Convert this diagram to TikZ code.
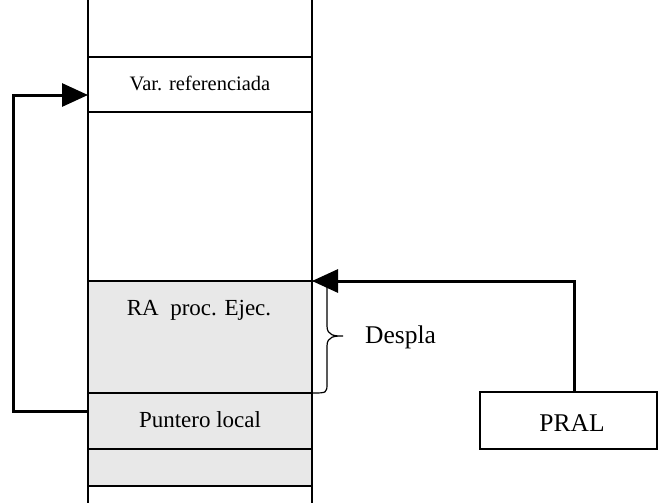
\documentclass[tikz,border=0pt]{standalone}
\usepackage{fontspec}
\setmainfont{Liberation Serif}
\usetikzlibrary{arrows.meta}
\definecolor{cellgray}{HTML}{E8E8E8}
\tikzset{
  cell/.style={draw=black, line width=1.2pt, minimum width=224pt, inner sep=0pt, outer sep=0pt},
  txt/.style={anchor=base, inner sep=0pt},
  link/.style={line width=3pt, -{Triangle[length=26pt,width=23pt]}},
}
\begin{document}
\begin{tikzpicture}[x=1pt,y=-1pt]
\useasboundingbox (0,0) rectangle (658,503);
% column cells
\node[cell, minimum height=55pt] (var) at (200,84.5) {};
\node[cell, fill=cellgray, minimum height=112pt] (ra) at (200,337) {};
\node[cell, fill=cellgray, minimum height=56pt] (punt) at (200,421) {};
\node[cell, fill=cellgray, minimum height=37pt] (empty) at (200,467.5) {};
% column sides
\draw[line width=1.2pt] (88,0) -- (88,503);
\draw[line width=1.2pt] (312,0) -- (312,503);
% texts
\node[txt, font=\fontsize{20.5}{24}\selectfont] (tvar) at (200,90) {Var. referenciada};
\node[txt, font=\fontsize{23}{27}\selectfont] (tra) at (199,315) {RA\ \ proc. Ejec.};
\node[txt, font=\fontsize{23}{27}\selectfont] (tpunt) at (200,427) {Puntero local};
% PRAL box
\node[draw=black, line width=1.2pt, minimum width=177pt, minimum height=57pt, inner sep=0pt, outer sep=0pt] (pral) at (568.5,420.5) {};
\node[txt, font=\fontsize{25.5}{30}\selectfont] (tpral) at (572,431) {PRAL};
% brace
\draw[line width=1.2pt] (ra.north east) .. controls (327,281) .. (327,292) -- (327,326)
  .. controls (327,336) and (335,336) .. (343,336)
  .. controls (335,336) and (327,336) .. (327,346) -- (327,383)
  .. controls (327,393) .. (ra.south east);
\node[txt, anchor=base west, font=\fontsize{25.5}{30}\selectfont] (despla) at (365,343) {Despla};
% connectors
\draw[link] ([yshift=10pt]punt.west) -- ++(-75,0) |- ([yshift=-10.5pt]var.west);
\draw[link] ([xshift=5.5pt]pral.north) |- (ra.north east);
\end{tikzpicture}
\end{document}
